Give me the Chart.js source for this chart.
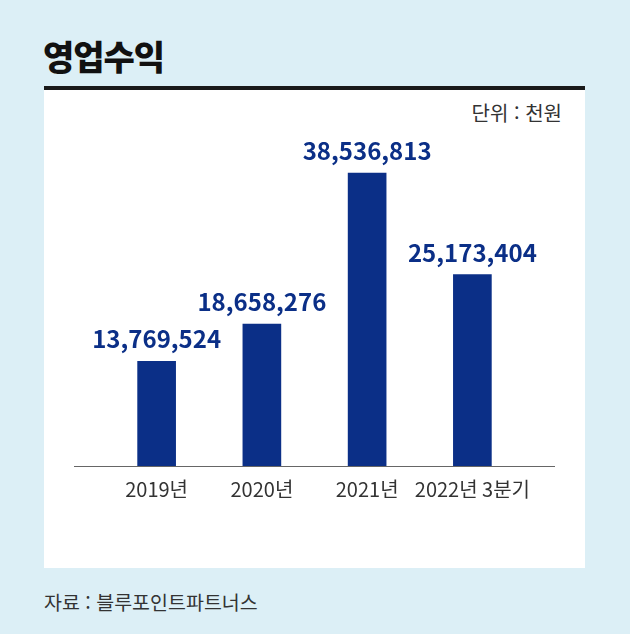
<!DOCTYPE html>
<html lang="ko">
<head>
<meta charset="utf-8">
<script src="https://cdn.jsdelivr.net/npm/chart.js@4.4.1/dist/chart.umd.min.js"></script>
<style>
  html, body { margin: 0; padding: 0; }
  body { width: 630px; height: 634px; background: #dceff6; position: relative; overflow: hidden;
         font-family: "Noto Sans CJK KR", "Noto Sans", sans-serif; }
  #title { position: absolute; left: 43px; top: 35px; font-size: 34px; font-weight: 900; color: #111;
           letter-spacing: -1px; line-height: 42px; }
  #rule { position: absolute; left: 44px; top: 86px; width: 541px; height: 4px; background: #1a1a1a; }
  #panel { position: absolute; left: 44px; top: 90px; width: 541px; height: 478px; background: #fff; }
  #unit { position: absolute; right: 68px; top: 101px; font-size: 20px; color: #333; line-height: 24px; }
  #source { position: absolute; left: 44px; top: 589px; font-size: 19.5px; color: #333; line-height: 26px; }
  #chartBox { position: absolute; left: 44px; top: 90px; width: 541px; height: 478px; }
</style>
</head>
<body>
<div id="title">영업수익</div>
<div id="rule"></div>
<div id="panel"></div>
<div id="unit">단위 : 천원</div>
<div id="chartBox"><canvas id="myChart"></canvas></div>
<div id="source">자료 : 블루포인트파트너스</div>
<script>
const labels = ['2019년', '2020년', '2021년', '2022년 3분기'];
const revenue = [13769524, 18658276, 38536813, 25173404];
const yMax = 44200000;

const barColor = '#0b2f87';

// value labels above bars + extended baseline
const barLabels = {
    id: 'barLabels',
    afterDatasetsDraw(chart) {
        const ctx = chart.ctx;
        const meta = chart.getDatasetMeta(0);
        ctx.save();
        ctx.font = 'bold 24px "Noto Sans CJK KR", "Noto Sans", sans-serif';
        ctx.fillStyle = barColor;
        ctx.textAlign = 'center';
        ctx.textBaseline = 'middle';
        meta.data.forEach((bar, i) => {
            ctx.fillText(revenue[i].toLocaleString('en-US'), bar.x, bar.y - 22);
        });
        // baseline
        const y0 = chart.scales.y.getPixelForValue(0);
        ctx.strokeStyle = '#666';
        ctx.lineWidth = 1;
        ctx.beginPath();
        ctx.moveTo(chart.chartArea.left - 30, y0 + 0.5);
        ctx.lineTo(chart.chartArea.right + 30, y0 + 0.5);
        ctx.stroke();
        ctx.restore();
    }
};

const data = {
    labels: labels,
    datasets: [{
        data: revenue,
        backgroundColor: barColor,
        borderWidth: 0,
        barThickness: 38
    }]
};

const config = {
    type: 'bar',
    data: data,
    options: {
        responsive: true,
        maintainAspectRatio: false,
        animation: false,
        layout: { padding: { top: 40, left: 60, right: 60, bottom: 0 } },
        plugins: {
            legend: { display: false },
            tooltip: { enabled: false }
        },
        scales: {
            x: {
                grid: { display: false, drawTicks: false },
                border: { display: false },
                ticks: {
                    color: '#333',
                    padding: 11,
                    autoSkip: false,
                    maxRotation: 0,
                    minRotation: 0,
                    font: { size: 20, family: '"Noto Sans CJK KR", "Noto Sans", sans-serif' }
                },
                afterFit: (scale) => { scale.height = 102; }
            },
            y: {
                display: false,
                min: 0,
                max: yMax
            }
        }
    },
    plugins: [barLabels]
};

const chart = new Chart(document.getElementById('myChart'), config);
</script>
</body>
</html>
